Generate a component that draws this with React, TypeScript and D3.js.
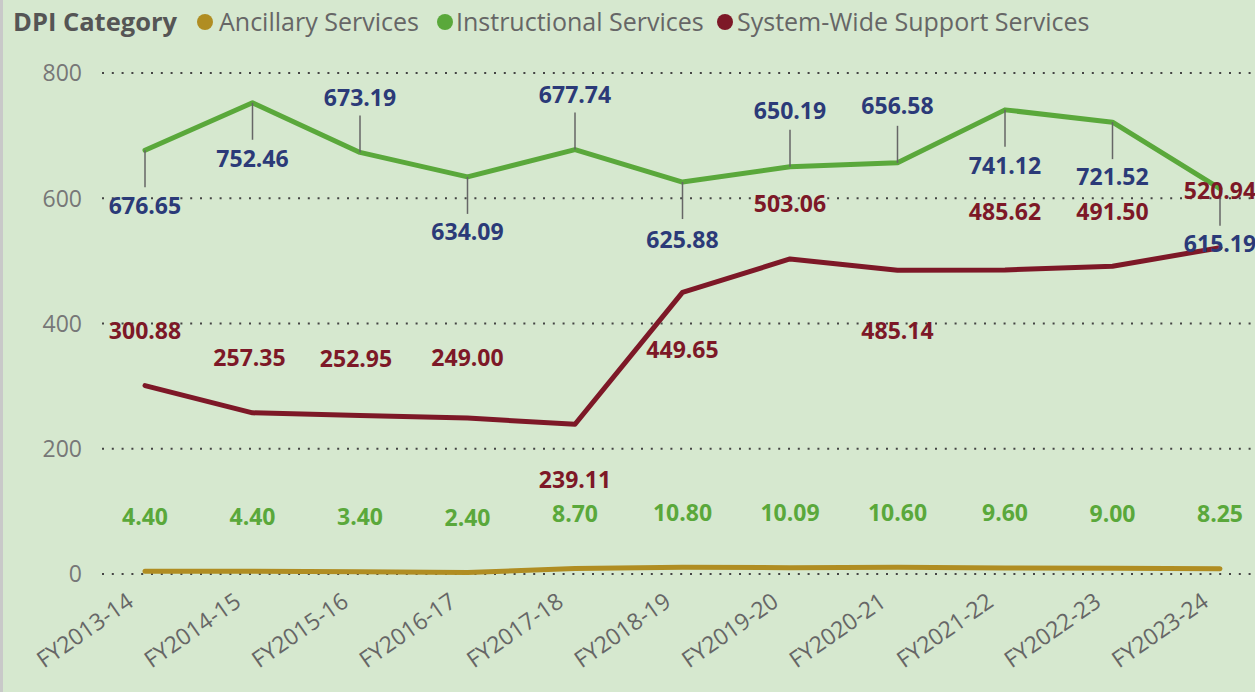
import React from "react";
import * as d3 from "d3";

const categories = ["FY2013-14", "FY2014-15", "FY2015-16", "FY2016-17", "FY2017-18", "FY2018-19", "FY2019-20", "FY2020-21", "FY2021-22", "FY2022-23", "FY2023-24"];
const ancillary = [4.4, 4.4, 3.4, 2.4, 8.7, 10.8, 10.09, 10.6, 9.6, 9.0, 8.25];
const instructional = [676.65, 752.46, 673.19, 634.09, 677.74, 625.88, 650.19, 656.58, 741.12, 721.52, 615.19];
const systemWide = [300.88, 257.35, 252.95, 249.0, 239.11, 449.65, 503.06, 485.14, 485.62, 491.5, 520.94];
const yTicks = [0, 200, 400, 600, 800];
const seriesNames = ["Ancillary Services", "Instructional Services", "System-Wide Support Services"];

// label placement (pixel offsets from the point, as Power BI placed them)
const instrLabelDy = [55, 56, -55, 55, -55, 58, -56, -57, 56, 55, 55];
const sysLabelDy = [-55, -55, -57, -60, 55, 57, -55, 61, -58, -54, -57];
const sysLabelDx = [0, -3, -4, 0, 0, 0, 0, 0, 0, 0, 0];
const ancLabelDy = -55;

const W = 1255, H = 692;
const COLORS = { anc: "#B08D22", instr: "#5AA83B", sys: "#7D1827" };
const LABEL_COLORS = { anc: "#5AA83B", instr: "#2B3A78", sys: "#7D1827" };
const FONT = "'Open Sans', 'Noto Sans', sans-serif";

export default function App() {
  const x = d3.scalePoint<string>().domain(categories).range([145, 1220]);
  const y = d3.scaleLinear().domain([0, 800]).range([574, 73]);
  const line = d3
    .line<number>()
    .x((_, i) => x(categories[i]) as number)
    .y((d) => y(d));

  const series = [
    { key: "anc", data: ancillary },
    { key: "instr", data: instructional },
    { key: "sys", data: systemWide },
  ] as const;

  const legendItems = [
    { name: seriesNames[0], color: COLORS.anc, cx: 205, tx: 219 },
    { name: seriesNames[1], color: COLORS.instr, cx: 445, tx: 456 },
    { name: seriesNames[2], color: COLORS.sys, cx: 725, tx: 737 },
  ];

  return (
    <svg width={W} height={H} style={{ position: "absolute", left: 0, top: 0, fontFamily: FONT }}>
      <rect x={0} y={0} width={W} height={H} fill="#D6E8CF" />
      <rect x={0} y={0} width={3} height={H} fill="#C9C9C9" />

      {/* legend */}
      <text x={13} y={31} fontSize={25.5} fontWeight={700} fill="#555">DPI Category</text>
      {legendItems.map((l) => (
        <g key={l.name}>
          <circle cx={l.cx} cy={22} r={8} fill={l.color} />
          <text x={l.tx} y={31} fontSize={25} fill="#666">{l.name}</text>
        </g>
      ))}

      {/* grid + y axis */}
      {yTicks.map((t) => (
        <g key={t}>
          <line x1={102} x2={W} y1={y(t)} y2={y(t)} stroke="#444" strokeWidth={2} strokeDasharray="2 7.8" />
          <text x={82} y={y(t)} dy="0.36em" textAnchor="end" fontSize={23} fill="#777">{t}</text>
        </g>
      ))}

      {/* x axis labels */}
      {categories.map((c) => (
        <text
          key={c}
          transform={`translate(${(x(c) as number) - 10},${605}) rotate(-35)`}
          textAnchor="end"
          fontSize={23}
          fill="#666"
        >
          {c}
        </text>
      ))}

      {/* lines */}
      {series.map((s) => (
        <path
          key={s.key}
          d={line(s.data as unknown as number[]) || ""}
          fill="none"
          stroke={COLORS[s.key]}
          strokeWidth={5}
          strokeLinejoin="round"
          strokeLinecap="round"
        />
      ))}

      {/* instructional leaders + labels */}
      {instructional.map((v, i) => {
        const px = x(categories[i]) as number;
        const py = y(v);
        const dy = instrLabelDy[i];
        const dir = dy > 0 ? 1 : -1;
        return (
          <g key={"il" + i}>
            <line x1={px} x2={px} y1={py} y2={py + dir * 37} stroke="#666" strokeWidth={1.5} />
            <text x={px} y={py + dy} dy="0.36em" textAnchor="middle" fontSize={23} fontWeight={700} fill={LABEL_COLORS.instr}>
              {v.toFixed(2)}
            </text>
          </g>
        );
      })}

      {/* system-wide labels */}
      {systemWide.map((v, i) => {
        const px = (x(categories[i]) as number) + sysLabelDx[i];
        const py = y(v);
        return (
          <text key={"sl" + i} x={px} y={py + sysLabelDy[i]} dy="0.36em" textAnchor="middle" fontSize={23} fontWeight={700} fill={LABEL_COLORS.sys}>
            {v.toFixed(2)}
          </text>
        );
      })}

      {/* ancillary labels */}
      {ancillary.map((v, i) => {
        const px = x(categories[i]) as number;
        const py = y(v);
        return (
          <text key={"al" + i} x={px} y={py + ancLabelDy} dy="0.36em" textAnchor="middle" fontSize={23} fontWeight={700} fill={LABEL_COLORS.anc}>
            {v.toFixed(2)}
          </text>
        );
      })}
    </svg>
  );
}
